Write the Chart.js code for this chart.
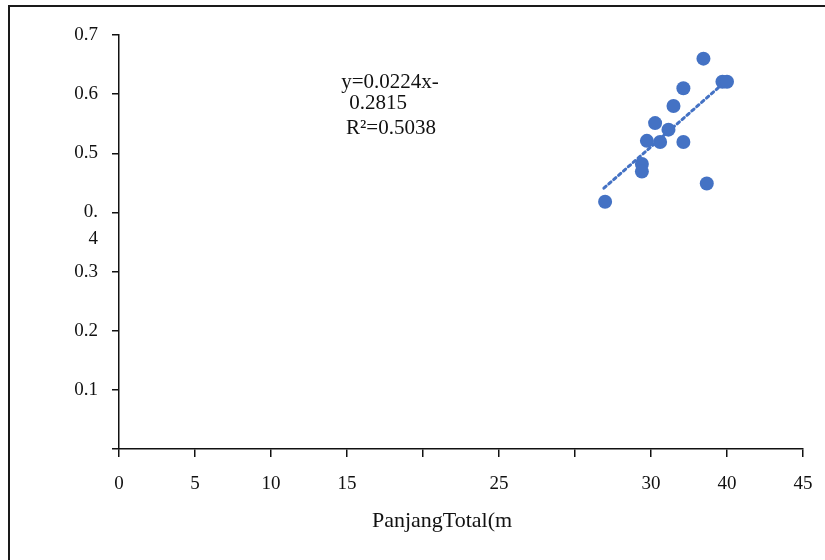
<!DOCTYPE html>
<html>
<head>
<meta charset="utf-8">
<script src="https://cdn.jsdelivr.net/npm/chart.js@4"></script>
<style>
  html, body { margin: 0; padding: 0; background: #fff; overflow: hidden; }
  #wrap { position: relative; width: 825px; height: 560px; }
  #frame { position: absolute; left: 8px; top: 5px; width: 900px; height: 700px; border: 2px solid #1a1a1a; box-sizing: border-box; }
  canvas { position: absolute; left: 0; top: 0; }
</style>
</head>
<body>
<div id="wrap">
  <div id="frame"></div>
  <canvas id="c" width="825" height="560"></canvas>
</div>
<script>
// ---- data ----
const panjangTotal = [38.45, 39.7, 40.0, 37.13, 36.48, 35.27, 36.15, 34.73, 35.6, 37.13, 34.4, 34.4, 38.67, 31.98];
const seriesValues = [0.660, 0.621, 0.621, 0.610, 0.580, 0.551, 0.540, 0.521, 0.519, 0.519, 0.482, 0.469, 0.449, 0.418];
const trendX = [31.9, 39.7];
const trendY = [0.441, 0.617];
const xTickLabels = ['0', '5', '10', '15', '', '25', '', '30', '40', '45'];
const yTickLabels = ['', '0.1', '0.2', '0.3', ['', '0.', '4'], '0.5', '0.6', '0.7'];
const equationLines = ['y=0.0224x-', '0.2815', 'R²=0.5038'];
const xAxisTitle = 'PanjangTotal(m';

const BLUE = '#4472C4';
const FONT = '"Liberation Serif", "Times New Roman", serif';

const points = panjangTotal.map((x, i) => ({ x: x, y: seriesValues[i] }));
const trend = trendX.map((x, i) => ({ x: x, y: trendY[i] }));

const textPlugin = {
  id: 'texts',
  afterDraw(chart) {
    const ctx = chart.ctx;
    ctx.save();
    ctx.fillStyle = '#111';
    ctx.textAlign = 'center';
    ctx.textBaseline = 'middle';
    ctx.font = '21px ' + FONT;
    const pos = [[390, 82], [378, 103], [391, 128]];
    equationLines.forEach((t, i) => ctx.fillText(t, pos[i][0], pos[i][1]));
    ctx.font = '22px ' + FONT;
    ctx.fillText(xAxisTitle, 442, 521);
    ctx.restore();
  }
};

new Chart(document.getElementById('c'), {
  type: 'scatter',
  data: {
    datasets: [
      {
        data: points,
        backgroundColor: BLUE,
        borderColor: BLUE,
        borderWidth: 0,
        pointRadius: 7,
        pointHoverRadius: 7,
        order: 0
      },
      {
        type: 'line',
        data: trend,
        borderColor: BLUE,
        borderWidth: 3,
        borderDash: [3, 3.5],
        borderCapStyle: 'round',
        pointRadius: 0,
        fill: false,
        showLine: true,
        order: 1
      }
    ]
  },
  options: {
    responsive: false,
    animation: false,
    events: [],
    layout: { padding: { left: 0, top: 35, right: 22, bottom: 0 } },
    plugins: { legend: { display: false }, tooltip: { enabled: false } },
    scales: {
      x: {
        type: 'linear',
        min: 0, max: 45,
        afterFit(s) { s.height = 111; s.paddingRight = 0; s.paddingLeft = 0; },
        ticks: {
          stepSize: 5,
          autoSkip: false,
          maxRotation: 0,
          padding: 16,
          color: '#111',
          font: { family: FONT, size: 19 },
          callback: (v) => xTickLabels[Math.round(v / 5)]
        },
        grid: { drawOnChartArea: false, drawTicks: true, tickLength: 8, color: '#111', lineWidth: 1.5 },
        border: { display: true, color: '#111', width: 1.5 }
      },
      y: {
        type: 'linear',
        min: 0, max: 0.7,
        afterFit(s) { s.width = 119; s.paddingTop = 0; s.paddingBottom = 0; },
        ticks: {
          stepSize: 0.1,
          autoSkip: false,
          padding: 14,
          color: '#111',
          font: { family: FONT, size: 19, lineHeight: 1.4 },
          callback: (v) => yTickLabels[Math.round(v * 10)]
        },
        grid: { drawOnChartArea: false, drawTicks: true, tickLength: 7, color: '#111', lineWidth: 1.5 },
        border: { display: true, color: '#111', width: 1.5 }
      }
    }
  },
  plugins: [textPlugin]
});
</script>
</body>
</html>
